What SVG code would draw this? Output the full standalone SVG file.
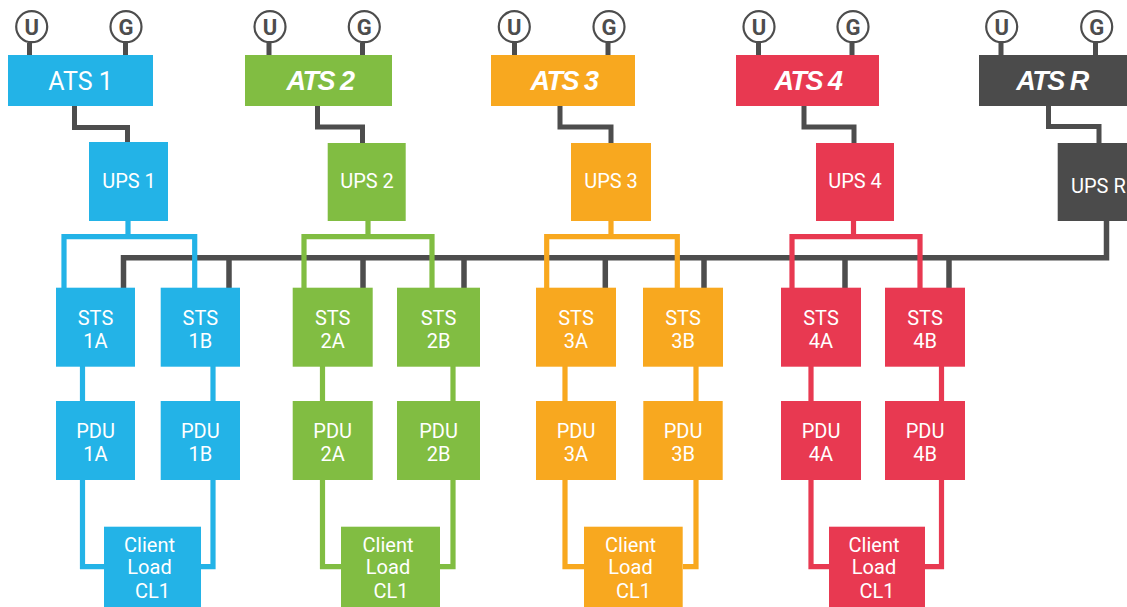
<svg xmlns="http://www.w3.org/2000/svg" width="1127" height="607" viewBox="0 0 1127 607">
  <style>
    .bg { fill: #ffffff; }
    .blue { fill: #23b3e7; }
    .green { fill: #81bd42; }
    .orange { fill: #f8a81f; }
    .red { fill: #e83951; }
    .dark { fill: #4b4b4b; }
    .wire { fill: none; stroke: #4d4d4d; stroke-width: 5; stroke-linejoin: miter; }
    .bus { fill: none; stroke: #4d4d4d; stroke-width: 5.5; stroke-linejoin: miter; }
    .w-blue { fill: none; stroke: #23b3e7; stroke-width: 5.2; }
    .w-green { fill: none; stroke: #81bd42; stroke-width: 5.2; }
    .w-orange { fill: none; stroke: #f8a81f; stroke-width: 5.2; }
    .w-red { fill: none; stroke: #e83951; stroke-width: 5.2; }
    .src circle { fill: #ffffff; stroke: #4d4d4d; stroke-width: 2.2; }
    .src text { fill: #4d4d4d; font-family: Roboto, "Liberation Sans", sans-serif; font-weight: 700; font-size: 22px; text-anchor: middle; }
    .lbl { fill: #ffffff; font-family: Roboto, "Liberation Sans", sans-serif; font-weight: 400; font-size: 20px; text-anchor: middle; }
    .ats1 { fill: #ffffff; font-family: Roboto, "Liberation Sans", sans-serif; font-weight: 400; font-size: 25px; text-anchor: middle; }
    .ats { fill: #ffffff; font-family: "Liberation Sans", Arial, sans-serif; font-weight: 700; font-style: italic; font-size: 27px; letter-spacing: -1.5px; text-anchor: middle; }
  </style>

  <rect class="bg" x="0" y="0" width="1127" height="607"/>

  <!-- connectors -->
  <g id="connectors">
    <!-- utility / generator feeds into each ATS -->
    <path class="wire" d="M29.5 43V55 M125.5 43V55 M269 43V55 M362.5 43V55 M514.5 43V55 M608 43V55 M758.5 43V55 M852 43V55 M1001 43V55 M1095.5 43V55"/>
    <!-- ATS to UPS -->
    <path class="wire" d="M74.5 106V127.5H127.5V142"/>
    <path class="wire" d="M317.5 106V127H362.5V143"/>
    <path class="wire" d="M560 106V127H611V143"/>
    <path class="wire" d="M804 106V127H854V143"/>
    <path class="wire" d="M1048.5 106V126.5H1099V143"/>
    <!-- reserve bus from UPS R to every STS -->
    <path class="bus" d="M123.5 288V257.8H1106.5V220"/>
    <path class="bus" d="M229 257.8V288 M363 257.8V288 M464 257.8V288 M605.3 257.8V288 M704 257.8V288 M845 257.8V288 M949 257.8V288"/>

    <!-- UPS to STS pairs -->
    <path class="w-blue" d="M128 220V236.7 M64 288V236.7H194.7V288"/>
    <path class="w-green" d="M368 220V236.7 M304 288V236.7H432V288"/>
    <path class="w-orange" d="M611 220V236.7 M546.7 288V236.7H677.3V288"/>
    <path class="w-red" d="M853.5 220V236.7 M792 288V236.7H920V288"/>

    <!-- STS to PDU to client load -->
    <path class="w-blue" d="M82.5 366V566.7H104 M213 366V566.7H201"/>
    <path class="w-green" d="M322.5 366V566.7H341 M453 366V566.7H440"/>
    <path class="w-orange" d="M565 366V566.7H584 M696 366V566.7H683"/>
    <path class="w-red" d="M811 366V566.7H829 M941.5 366V566.7H925"/>
  </g>

  <!-- sources: U = utility, G = generator -->
  <g id="src-1" class="src">
    <circle cx="31.7" cy="26.7" r="15.5"/><text x="31.7" y="34.5">U</text>
    <circle cx="126" cy="26.7" r="15.5"/><text x="126" y="34.5">G</text>
  </g>
  <g id="src-2" class="src">
    <circle cx="270" cy="26.7" r="15.5"/><text x="270" y="34.5">U</text>
    <circle cx="364.3" cy="26.7" r="15.5"/><text x="364.3" y="34.5">G</text>
  </g>
  <g id="src-3" class="src">
    <circle cx="514.3" cy="26.7" r="15.5"/><text x="514.3" y="34.5">U</text>
    <circle cx="609" cy="26.7" r="15.5"/><text x="609" y="34.5">G</text>
  </g>
  <g id="src-4" class="src">
    <circle cx="759" cy="26.7" r="15.5"/><text x="759" y="34.5">U</text>
    <circle cx="853" cy="26.7" r="15.5"/><text x="853" y="34.5">G</text>
  </g>
  <g id="src-r" class="src">
    <circle cx="1001.7" cy="26.7" r="15.5"/><text x="1001.7" y="34.5">U</text>
    <circle cx="1096.7" cy="26.7" r="15.5"/><text x="1096.7" y="34.5">G</text>
  </g>

  <!-- ATS row -->
  <g id="ats-1"><rect class="blue" x="8" y="55" width="145" height="51"/><text class="ats1" x="80.5" y="90">ATS 1</text></g>
  <g id="ats-2"><rect class="green" x="245" y="55" width="147" height="51"/><text class="ats" x="320" y="90">ATS 2</text></g>
  <g id="ats-3"><rect class="orange" x="491" y="55" width="144" height="51"/><text class="ats" x="564" y="90">ATS 3</text></g>
  <g id="ats-4"><rect class="red" x="736" y="55" width="143" height="51"/><text class="ats" x="808" y="90">ATS 4</text></g>
  <g id="ats-r"><rect class="dark" x="979" y="55" width="150" height="51"/><text class="ats" x="1052" y="90">ATS R</text></g>

  <!-- UPS row -->
  <g id="ups-1"><rect class="blue" x="89" y="142" width="79" height="79"/><text class="lbl" x="129" y="188">UPS 1</text></g>
  <g id="ups-2"><rect class="green" x="327.7" y="143" width="78" height="78"/><text class="lbl" x="367" y="188">UPS 2</text></g>
  <g id="ups-3"><rect class="orange" x="571" y="143" width="80" height="78"/><text class="lbl" x="611" y="188">UPS 3</text></g>
  <g id="ups-4"><rect class="red" x="816" y="143" width="78" height="78"/><text class="lbl" x="855" y="188">UPS 4</text></g>
  <g id="ups-r"><rect class="dark" x="1057.7" y="143" width="80" height="78"/><text class="lbl" x="1071" y="193" style="text-anchor:start">UPS R</text></g>

  <!-- STS row -->
  <g id="sts-1a"><rect class="blue" x="56" y="287.7" width="79" height="79"/><text class="lbl" x="95.5" y="325">STS</text><text class="lbl" x="95.5" y="347.5">1A</text></g>
  <g id="sts-1b"><rect class="blue" x="160.7" y="287.7" width="79.3" height="79"/><text class="lbl" x="200.3" y="325">STS</text><text class="lbl" x="200.3" y="347.5">1B</text></g>
  <g id="sts-2a"><rect class="green" x="292.7" y="287.7" width="80" height="79"/><text class="lbl" x="332.7" y="325">STS</text><text class="lbl" x="332.7" y="347.5">2A</text></g>
  <g id="sts-2b"><rect class="green" x="397" y="287.7" width="83" height="79"/><text class="lbl" x="438.5" y="325">STS</text><text class="lbl" x="438.5" y="347.5">2B</text></g>
  <g id="sts-3a"><rect class="orange" x="536" y="287.7" width="80" height="79"/><text class="lbl" x="576" y="325">STS</text><text class="lbl" x="576" y="347.5">3A</text></g>
  <g id="sts-3b"><rect class="orange" x="643" y="287.7" width="80" height="79"/><text class="lbl" x="683" y="325">STS</text><text class="lbl" x="683" y="347.5">3B</text></g>
  <g id="sts-4a"><rect class="red" x="781" y="287.7" width="80" height="79"/><text class="lbl" x="821" y="325">STS</text><text class="lbl" x="821" y="347.5">4A</text></g>
  <g id="sts-4b"><rect class="red" x="885" y="287.7" width="80" height="79"/><text class="lbl" x="925" y="325">STS</text><text class="lbl" x="925" y="347.5">4B</text></g>

  <!-- PDU row -->
  <g id="pdu-1a"><rect class="blue" x="56" y="401" width="79" height="79"/><text class="lbl" x="95.5" y="437.5">PDU</text><text class="lbl" x="95.5" y="461">1A</text></g>
  <g id="pdu-1b"><rect class="blue" x="160.7" y="401" width="79.3" height="79"/><text class="lbl" x="200.3" y="437.5">PDU</text><text class="lbl" x="200.3" y="461">1B</text></g>
  <g id="pdu-2a"><rect class="green" x="292.7" y="401" width="80" height="79"/><text class="lbl" x="332.7" y="437.5">PDU</text><text class="lbl" x="332.7" y="461">2A</text></g>
  <g id="pdu-2b"><rect class="green" x="397" y="401" width="83" height="79"/><text class="lbl" x="438.5" y="437.5">PDU</text><text class="lbl" x="438.5" y="461">2B</text></g>
  <g id="pdu-3a"><rect class="orange" x="536" y="401" width="80" height="79"/><text class="lbl" x="576" y="437.5">PDU</text><text class="lbl" x="576" y="461">3A</text></g>
  <g id="pdu-3b"><rect class="orange" x="643.3" y="401" width="79.4" height="79"/><text class="lbl" x="683" y="437.5">PDU</text><text class="lbl" x="683" y="461">3B</text></g>
  <g id="pdu-4a"><rect class="red" x="781" y="401" width="80" height="79"/><text class="lbl" x="821" y="437.5">PDU</text><text class="lbl" x="821" y="461">4A</text></g>
  <g id="pdu-4b"><rect class="red" x="885" y="401" width="80" height="79"/><text class="lbl" x="925" y="437.5">PDU</text><text class="lbl" x="925" y="461">4B</text></g>

  <!-- client loads -->
  <g id="cl-1"><rect class="blue" x="104" y="526.7" width="97" height="81"/><text class="lbl" x="149.5" y="551.5">Client</text><text class="lbl" x="149.5" y="574">Load</text><text class="lbl" x="152.5" y="597.5">CL1</text></g>
  <g id="cl-2"><rect class="green" x="341" y="526.7" width="99" height="81"/><text class="lbl" x="388" y="551.5">Client</text><text class="lbl" x="388" y="574">Load</text><text class="lbl" x="391" y="597.5">CL1</text></g>
  <g id="cl-3"><rect class="orange" x="584" y="526.7" width="98.7" height="81"/><text class="lbl" x="630.5" y="551.5">Client</text><text class="lbl" x="630.5" y="574">Load</text><text class="lbl" x="633.5" y="597.5">CL1</text></g>
  <g id="cl-4"><rect class="red" x="829" y="526.7" width="96" height="81"/><text class="lbl" x="874" y="551.5">Client</text><text class="lbl" x="874" y="574">Load</text><text class="lbl" x="877" y="597.5">CL1</text></g>
</svg>
